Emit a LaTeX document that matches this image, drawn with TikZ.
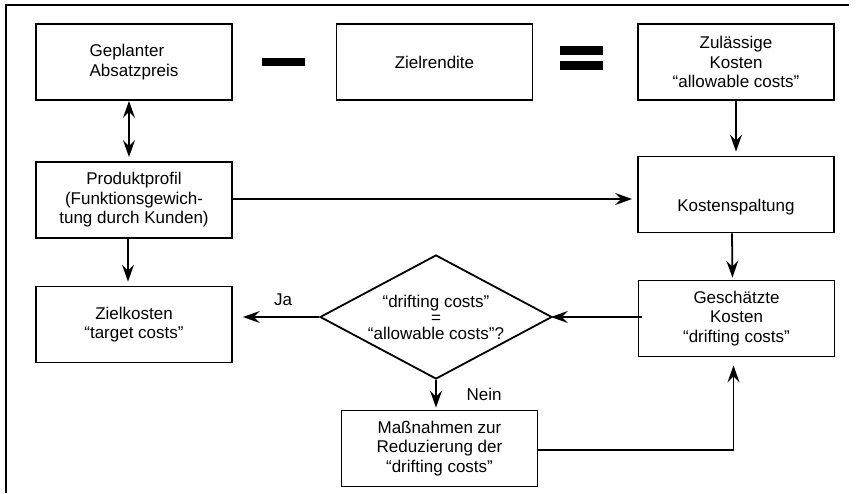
\documentclass[tikz,border=0pt]{standalone}
\usepackage{fontspec}
\setmainfont{Liberation Sans}
\usetikzlibrary{shapes.geometric,arrows.meta}

\begin{document}
\begin{tikzpicture}[x=1pt,y=-1pt,line width=1.8pt,
  kasten/.style={draw, minimum width=196pt, minimum height=76pt, inner sep=2pt, align=center, font=\fontsize{17}{19.5}\selectfont},
  raute/.style={draw, shape=diamond, aspect=1.87, minimum width=232pt, minimum height=124pt, inner sep=0pt, align=center, font=\fontsize{17}{16}\selectfont},
  marke/.style={font=\fontsize{17}{19.5}\selectfont},
  pfeil/.style={-{Stealth[length=17pt,width=12pt,inset=6pt]}},
  doppelpfeil/.style={{Stealth[length=17pt,width=12pt,inset=6pt]}-{Stealth[length=17pt,width=12pt,inset=6pt]}}]
\useasboundingbox (0,0) rectangle (859,493);
\draw (6,493) -- (6,5) -- (849,5);
\node[kasten, align=left] (preis) at (134,62) {Geplanter\\Absatzpreis};
\node[kasten] (rendite) at (434.5,62) {Zielrendite};
\node[kasten] (zulaessig) at (736,62) {Zulässige\\Kosten\\“allowable costs”};
\node[kasten] (profil) at (134,200) {Produktprofil\\(Funktionsgewich-\\tung durch Kunden)};
\node[kasten, text height=38pt, text depth=4pt] (spaltung) at (736,194.5) {Kostenspaltung};
\node[kasten] (zielkosten) at (134,324.5) {Zielkosten\\“target costs”};
\node[raute] (vergleich) at (436,317) {“drifting costs”\\=\\“allowable costs”?};
\node[kasten] (geschaetzt) at (736.5,318.5) {Geschätzte\\Kosten\\“drifting costs”};
\node[kasten] (massnahmen) at (439.5,448.5) {Maßnahmen zur\\Reduzierung der\\“drifting costs”};
\node[marke] (ja) at (283,300) {Ja};
\node[marke] (nein) at (484,394) {Nein};
\fill (262,58) rectangle (305,66);
\fill (560,46) rectangle (603,55);
\fill (560,61) rectangle (603,70);
\draw[doppelpfeil, shorten >=4pt] ([xshift=-5pt]preis.south) -- ([xshift=-5pt]profil.north);
\draw[pfeil, shorten >=5pt] (profil.east |- 0,199) -- (spaltung.west |- 0,199);
\draw[pfeil, shorten >=4pt] (zulaessig.south) -- (spaltung.north);
\draw[pfeil, shorten >=4pt] ([xshift=-6pt]profil.south) -- ([xshift=-6pt]zielkosten.north);
\draw[pfeil, shorten >=2pt] ([xshift=-4pt]spaltung.south) -- ([xshift=-4pt]geschaetzt.north);
\draw[pfeil, shorten <=-4pt, shorten >=-2pt] (geschaetzt.west |- vergleich.east) -- (vergleich.east);
\draw[pfeil, shorten >=10pt] (vergleich.west) -- (vergleich.west -| zielkosten.east);
\draw[pfeil, shorten >=2pt] (vergleich.south) -- (vergleich.south |- massnahmen.north);
\draw[pfeil, shorten >=8pt] (massnahmen.east |- 0,450) -| ([xshift=-3pt]geschaetzt.south);
\end{tikzpicture}
\end{document}
